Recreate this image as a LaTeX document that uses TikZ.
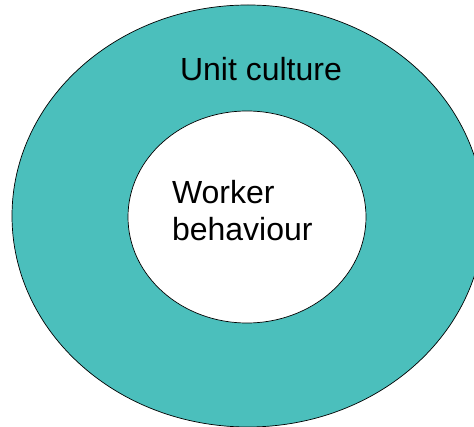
\documentclass[tikz,border=0pt]{standalone}
\usepackage{fontspec}
\setmainfont{Liberation Sans}
\usetikzlibrary{shapes.geometric}
\definecolor{unitteal}{RGB}{75,191,188}

\begin{document}
\begin{tikzpicture}[x=1pt,y=-1pt]
 		\tikzstyle{every node}=[inner sep=0pt,outer sep=0pt]
 		\tikzstyle{ring}=[draw,ellipse,line width=0.7pt]
 		\tikzstyle{caption}=[font=\fontsize{32}{37}\selectfont,align=left]
 		\useasboundingbox (0,0) rectangle (474,427);
 		\clip (0,0) rectangle (474,427);
 		
 		\node (unit) [ring,fill=unitteal,minimum width=472pt,minimum height=422pt] at (248,216) {};
 		\node (worker) [ring,fill=white,minimum width=238pt,minimum height=212pt] at (247,217) {};
 		
 		\node (unitlabel) [caption,anchor=base west] at (180,81) {Unit culture};
 		\node (workerlabel) [caption,anchor=west] at (172,211) {Worker\\behaviour};
\end{tikzpicture}
\end{document}
